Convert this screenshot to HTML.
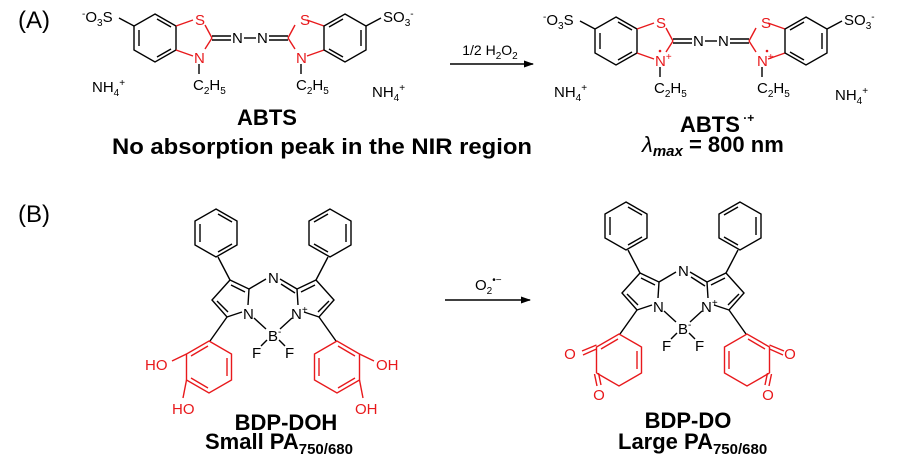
<!DOCTYPE html>
<html><head><meta charset="utf-8"><style>
html,body{margin:0;padding:0;background:#fff;}
svg{display:block;font-family:"Liberation Sans",Arial,sans-serif;}
.b{stroke:#000;stroke-width:1.4;fill:none;}
.r{stroke:#e8191c;stroke-width:1.4;fill:none;}
.t{font-size:15px;fill:#000;}
.rt{font-size:15px;fill:#e8191c;}
.L{font-size:22px;font-weight:bold;fill:#000;}
</style></head><body>
<svg width="900" height="472" viewBox="0 0 900 472" xmlns="http://www.w3.org/2000/svg">
<defs>
<marker id="ah" markerWidth="10" markerHeight="8" refX="9" refY="4" orient="auto" markerUnits="userSpaceOnUse">
<path d="M0,0.5 L10,4 L0,7.5 Z" fill="#000"/></marker>
<g id="abts">
 <polygon class="b" points="155,14 176,26 176,50 155,62 134,50 134,26"/>
 <line class="b" x1="139" y1="30" x2="139" y2="46"/>
 <line class="b" x1="157" y1="19" x2="171" y2="27"/>
 <line class="b" x1="157" y1="57" x2="171" y2="49"/>
 <line class="b" x1="134" y1="26" x2="119" y2="18"/>
 <line class="r" x1="176" y1="26" x2="193" y2="20"/>
 <line class="r" x1="205" y1="25" x2="212" y2="38"/>
 <line class="r" x1="212" y1="38" x2="205" y2="49"/>
 <line class="r" x1="193" y1="56" x2="176" y2="50"/>
 <line class="b" x1="199" y1="64" x2="199" y2="74"/>
 <line class="b" x1="212" y1="36" x2="231" y2="36"/>
 <line class="b" x1="212" y1="40" x2="231" y2="40"/>
 <line class="b" x1="244" y1="38" x2="256" y2="38"/>
 <line class="b" x1="269" y1="36" x2="288" y2="36"/>
 <line class="b" x1="269" y1="40" x2="288" y2="40"/>
 <line class="r" x1="324" y1="26" x2="307" y2="20"/>
 <line class="r" x1="295" y1="25" x2="288" y2="38"/>
 <line class="r" x1="288" y1="38" x2="295" y2="49"/>
 <line class="r" x1="307" y1="56" x2="324" y2="50"/>
 <line class="b" x1="301" y1="64" x2="301" y2="74"/>
 <polygon class="b" points="345,14 366,26 366,50 345,62 324,50 324,26"/>
 <line class="b" x1="361" y1="30" x2="361" y2="46"/>
 <line class="b" x1="343" y1="19" x2="329" y2="27"/>
 <line class="b" x1="343" y1="57" x2="329" y2="49"/>
 <line class="b" x1="366" y1="26" x2="381" y2="18"/>
</g>
<g id="bdp">
 <polygon class="b" points="216,209 237,221 237,245 216,257 195,245 195,221"/>
 <line class="b" x1="200" y1="224" x2="200" y2="242"/><line class="b" x1="218" y1="214" x2="232" y2="222"/><line class="b" x1="218" y1="252" x2="232" y2="244"/>
 <polygon class="b" points="330,209 309,221 309,245 330,257 351,245 351,221"/>
 <line class="b" x1="346" y1="224" x2="346" y2="242"/><line class="b" x1="328" y1="214" x2="314" y2="222"/><line class="b" x1="328" y1="252" x2="314" y2="244"/>
 <line class="b" x1="230" y1="280" x2="218" y2="257"/>
 <line class="b" x1="316" y1="280" x2="328" y2="257"/>
 <polyline class="b" points="248,305 249,289 230,280 212,300 227,317 242,312"/>
 <line class="b" x1="245" y1="292" x2="231" y2="285"/>
 <line class="b" x1="217" y1="301" x2="228" y2="312"/>
 <line class="b" x1="249" y1="289" x2="266" y2="279"/>
 <line class="b" x1="297" y1="289" x2="280" y2="279"/>
 <line class="b" x1="295" y1="293" x2="281" y2="284"/>
 <polyline class="b" points="298,305 297,289 316,280 334,300 319,317 304,312"/>
 <line class="b" x1="301" y1="292" x2="315" y2="285"/>
 <line class="b" x1="329" y1="301" x2="318" y2="312"/>
 <line class="b" x1="254" y1="318" x2="266" y2="329"/>
 <line class="b" x1="292" y1="318" x2="280" y2="329"/>
 <line class="b" x1="267" y1="340" x2="261" y2="346"/>
 <line class="b" x1="279" y1="340" x2="285" y2="346"/>
 <line class="b" x1="227" y1="317" x2="210" y2="341"/>
 <line class="b" x1="319" y1="317" x2="336" y2="341"/>
</g>
</defs>

<text x="18" y="28" font-size="24" fill="#000">(A)</text>
<text x="18" y="222" font-size="24" fill="#000">(B)</text>

<use href="#abts"/>
<text class="t" x="82" y="22"><tspan font-size="10" dy="-5">-</tspan><tspan dy="5">O</tspan><tspan font-size="10" dy="4">3</tspan><tspan dy="-4">S</tspan></text>
<text class="t" x="383" y="22">SO<tspan font-size="10" dy="4">3</tspan><tspan font-size="10" dy="-9">-</tspan></text>
<text class="rt" x="195" y="25">S</text><text class="rt" x="300" y="25">S</text>
<text class="rt" x="194" y="63">N</text><text class="rt" x="296" y="63">N</text>
<text class="t" x="232" y="43">N</text><text class="t" x="257" y="43">N</text>
<text class="t" x="193" y="90">C<tspan font-size="10" dy="4">2</tspan><tspan dy="-4">H</tspan><tspan font-size="10" dy="4">5</tspan></text>
<text class="t" x="296" y="90">C<tspan font-size="10" dy="4">2</tspan><tspan dy="-4">H</tspan><tspan font-size="10" dy="4">5</tspan></text>
<text class="t" x="92" y="92">NH<tspan font-size="10" dy="4">4</tspan><tspan font-size="10" dy="-10">+</tspan></text>
<text class="t" x="372" y="97">NH<tspan font-size="10" dy="4">4</tspan><tspan font-size="10" dy="-10">+</tspan></text>
<text class="L" x="267" y="125" text-anchor="middle">ABTS</text>
<text class="L" x="112" y="154" textLength="420" lengthAdjust="spacingAndGlyphs">No absorption peak in the NIR region</text>

<line x1="450" y1="64" x2="533" y2="64" stroke="#000" stroke-width="1.4" marker-end="url(#ah)"/>
<text x="490" y="55" font-size="14" text-anchor="middle">1/2 H<tspan font-size="10" dy="4">2</tspan><tspan dy="-4">O</tspan><tspan font-size="10" dy="4">2</tspan></text>

<use href="#abts" transform="translate(461,3)"/>
<text class="t" x="543" y="25"><tspan font-size="10" dy="-5">-</tspan><tspan dy="5">O</tspan><tspan font-size="10" dy="4">3</tspan><tspan dy="-4">S</tspan></text>
<text class="t" x="844" y="25">SO<tspan font-size="10" dy="4">3</tspan><tspan font-size="10" dy="-9">-</tspan></text>
<text class="rt" x="656" y="28">S</text><text class="rt" x="761" y="28">S</text>
<text class="rt" x="655" y="66">N<tspan font-size="10" dy="-6">+</tspan></text>
<text class="rt" x="757" y="66">N<tspan font-size="10" dy="-6">+</tspan></text>
<circle cx="660" cy="51" r="1.3" fill="#e8191c"/><circle cx="767" cy="51" r="1.3" fill="#e8191c"/>
<text class="t" x="693" y="46">N</text><text class="t" x="718" y="46">N</text>
<text class="t" x="654" y="93">C<tspan font-size="10" dy="4">2</tspan><tspan dy="-4">H</tspan><tspan font-size="10" dy="4">5</tspan></text>
<text class="t" x="757" y="93">C<tspan font-size="10" dy="4">2</tspan><tspan dy="-4">H</tspan><tspan font-size="10" dy="4">5</tspan></text>
<text class="t" x="554" y="97">NH<tspan font-size="10" dy="4">4</tspan><tspan font-size="10" dy="-10">+</tspan></text>
<text class="t" x="835" y="100">NH<tspan font-size="10" dy="4">4</tspan><tspan font-size="10" dy="-10">+</tspan></text>
<text class="L" x="680" y="132">ABTS<tspan font-size="12" dy="-10"> ·+</tspan></text>
<text class="L" x="642" y="152"><tspan font-style="italic" font-weight="normal">λ</tspan><tspan font-style="italic" font-size="15" dy="4">max</tspan><tspan dy="-4"> = 800 nm</tspan></text>

<use href="#bdp"/>
<text class="t" x="268" y="283">N</text>
<text class="t" x="243" y="319">N</text>
<text class="t" x="291" y="319">N<tspan font-size="10" dy="-6">+</tspan></text>
<text class="t" x="268" y="341">B<tspan font-size="10" dy="-6">-</tspan></text>
<text class="t" x="252" y="358">F</text><text class="t" x="285" y="358">F</text>
<g class="r">
 <polygon points="209,341 231.5,354 231.5,380 209,393 186.5,380 186.5,354"/>
 <line x1="227" y1="358" x2="227" y2="376"/><line x1="208" y1="346" x2="191" y2="356"/><line x1="208" y1="388" x2="191" y2="378"/>
 <line x1="186.5" y1="354" x2="172" y2="361"/><line x1="186.5" y1="380" x2="183" y2="398"/>
 <polygon points="337,341 314.5,354 314.5,380 337,393 359.5,380 359.5,354"/>
 <line x1="319" y1="358" x2="319" y2="376"/><line x1="338" y1="346" x2="355" y2="356"/><line x1="338" y1="388" x2="355" y2="378"/>
 <line x1="359.5" y1="354" x2="374" y2="361"/><line x1="359.5" y1="380" x2="363" y2="398"/>
</g>
<text class="rt" x="145" y="370">HO</text><text class="rt" x="172" y="414">HO</text>
<text class="rt" x="376" y="370">OH</text><text class="rt" x="355" y="414">OH</text>
<text class="L" x="286" y="430" text-anchor="middle">BDP-DOH</text>
<text class="L" x="205" y="449">Small PA<tspan font-size="15" dy="5">750/680</tspan></text>

<line x1="445" y1="300" x2="530" y2="300" stroke="#000" stroke-width="1.4" marker-end="url(#ah)"/>
<text x="475" y="290" font-size="15">O<tspan font-size="10" dy="4">2</tspan><tspan font-size="10" dy="-11">•−</tspan></text>

<use href="#bdp" transform="translate(410,-7)"/>
<text class="t" x="678" y="276">N</text>
<text class="t" x="653" y="312">N</text>
<text class="t" x="701" y="312">N<tspan font-size="10" dy="-6">+</tspan></text>
<text class="t" x="678" y="334">B<tspan font-size="10" dy="-6">-</tspan></text>
<text class="t" x="662" y="351">F</text><text class="t" x="695" y="351">F</text>
<g class="r" transform="translate(410,-7)">
 <polyline points="186.5,380 186.5,354 209,341 231.5,354 231.5,380 209,393 186.5,380"/>
 <line x1="208" y1="346" x2="191" y2="356"/><line x1="227" y1="358" x2="227" y2="376"/>
 <line x1="186.5" y1="352" x2="172" y2="358"/><line x1="186.5" y1="356" x2="173" y2="362"/>
 <line x1="184.5" y1="381" x2="187" y2="393"/><line x1="188.5" y1="380" x2="191" y2="392"/>
 <polyline points="359.5,380 359.5,354 337,341 314.5,354 314.5,380 337,393 359.5,380"/>
 <line x1="338" y1="346" x2="355" y2="356"/><line x1="319" y1="358" x2="319" y2="376"/>
 <line x1="359.5" y1="352" x2="374" y2="358"/><line x1="359.5" y1="356" x2="373" y2="362"/>
 <line x1="361.5" y1="381" x2="359" y2="393"/><line x1="357.5" y1="380" x2="355" y2="392"/>
</g>
<text class="rt" x="570" y="359" text-anchor="middle">O</text><text class="rt" x="599" y="400" text-anchor="middle">O</text>
<text class="rt" x="790" y="359" text-anchor="middle">O</text><text class="rt" x="768" y="400" text-anchor="middle">O</text>
<text class="L" x="688" y="428" text-anchor="middle">BDP-DO</text>
<text class="L" x="618" y="449">Large PA<tspan font-size="15" dy="5">750/680</tspan></text>
</svg>
</body></html>
